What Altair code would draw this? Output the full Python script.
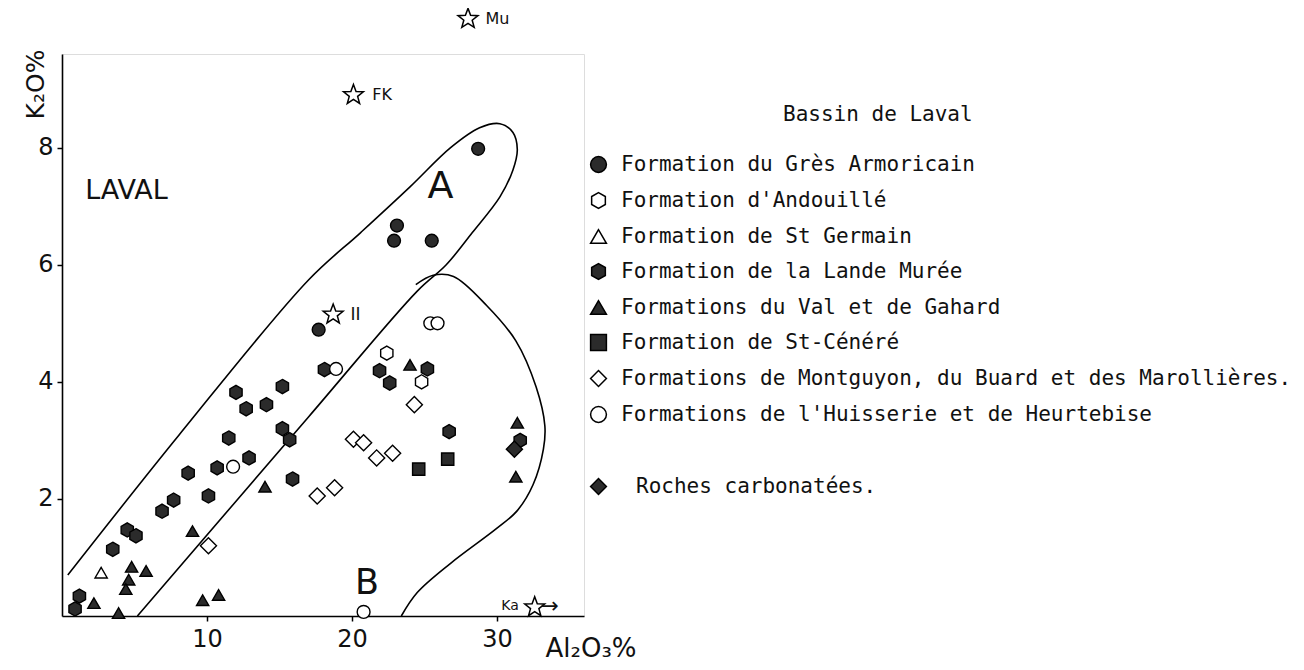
import altair as alt
import pandas as pd

# ---------------- data ----------------
gres_x = [17.7, 28.7, 23.1, 22.9, 25.5]
gres_y = [4.89, 7.98, 6.67, 6.41, 6.41]

andouille_x = [22.4, 24.8]
andouille_y = [4.49, 4.00]

stgermain_x = [2.7]
stgermain_y = [0.74]

lande_x = [12.0, 12.7, 11.5, 12.9, 10.7, 8.7, 7.7, 6.9, 10.1, 4.5, 5.1, 3.5, 1.2, 0.9,
           15.2, 14.1, 15.2, 15.7, 15.9, 18.1, 21.9, 22.6, 25.2, 26.7, 31.6]
lande_y = [3.82, 3.54, 3.04, 2.70, 2.53, 2.44, 1.98, 1.79, 2.05, 1.47, 1.37, 1.14, 0.34, 0.12,
           3.92, 3.61, 3.20, 3.01, 2.34, 4.21, 4.19, 3.98, 4.22, 3.15, 3.00]

val_x = [9.0, 4.8, 5.8, 4.6, 4.4, 2.2, 3.9, 9.7, 10.8, 14.0, 24.0, 31.4, 31.3]
val_y = [1.45, 0.84, 0.77, 0.62, 0.46, 0.22, 0.05, 0.27, 0.36, 2.21, 4.29, 3.30, 2.38]

cenere_x = [26.6, 24.6]
cenere_y = [2.68, 2.51]

montguyon_x = [10.1, 20.1, 20.8, 21.7, 22.8, 17.6, 18.8, 24.3]
montguyon_y = [1.20, 3.02, 2.96, 2.70, 2.78, 2.05, 2.19, 3.61]

huisserie_x = [11.8, 18.9, 25.4, 25.9, 20.8]
huisserie_y = [2.55, 4.22, 5.00, 5.00, 0.07]

roches_x = [31.2]
roches_y = [2.85]

# envelopes A and B (outline vertices)
envA_x = [0.4, 8.1, 17.0, 20.6, 24.0, 26.8, 28.8, 30.2, 31.1, 31.4, 31.1, 30.2, 28.3, 26.5, 24.5, 17.0, 5.2]
envA_y = [0.70, 3.10, 5.74, 6.55, 7.33, 8.00, 8.34, 8.41, 8.26, 7.97, 7.62, 7.16, 6.55, 6.00, 5.55, 3.40, 0.0]
envB_x = [24.4, 25.6, 27.0, 29.3, 31.3, 32.7, 33.3, 33.2, 32.5, 31.4, 30.0, 26.8, 24.5, 23.4]
envB_y = [5.66, 5.82, 5.80, 5.30, 4.70, 3.91, 3.25, 2.85, 2.25, 1.80, 1.50, 0.90, 0.40, 0.0]

# reference minerals (stars)
star_x = [28.0, 20.1, 18.7, 32.6]
star_y = [10.2, 8.9, 5.15, 0.15]

# annotations (left-aligned text)
ann_text = ["LAVAL", "A", "B", "FK", "Mu", "II", "Ka", "\u2192"]
ann_x = [1.6, 25.2, 20.2, 21.4, 29.2, 19.9, 30.3, 33.0]
ann_y = [7.26, 7.32, 0.56, 8.9, 10.2, 5.15, 0.17, 0.17]
ann_size = [27, 38, 35, 16, 16, 17, 14, 22]

# ---------------- legend categories ----------------
PAD = "\u2800"
formations = [
    "Formation du Grès Armoricain",
    "Formation d'Andouillé",
    "Formation de St Germain",
    "Formation de la Lande Murée",
    "Formations du Val et de Gahard",
    "Formation de St-Cénéré",
    "Formations de Montguyon, du Buard et des Marollières.",
    "Formations de l'Huisserie et de Heurtebise",
    PAD,
    PAD + "Roches carbonatées.",
]

HEX = "M0,-1L0.866,-0.5L0.866,0.5L0,1L-0.866,0.5L-0.866,-0.5Z"
STAR = ("M0,-1L0.247,-0.34L0.951,-0.309L0.399,0.13L0.588,0.809L0,0.42"
        "L-0.588,0.809L-0.399,0.13L-0.951,-0.309L-0.247,-0.34Z")
DARK = "#2b2b2b"
shapes = ["circle", HEX, "triangle-up", HEX, "triangle-up", "square", "diamond", "circle", "circle", "diamond"]
fills = [DARK, "white", "white", DARK, DARK, DARK, "white", "white", "transparent", DARK]
strokes = ["black"] * 8 + ["transparent", "black"]
msize = [165, 200, 150, 200, 150, 150, 260, 165, 0, 260]

groups = [
    (gres_x, gres_y, 0), (andouille_x, andouille_y, 1), (stgermain_x, stgermain_y, 2),
    (lande_x, lande_y, 3), (val_x, val_y, 4), (cenere_x, cenere_y, 5),
    (montguyon_x, montguyon_y, 6), (huisserie_x, huisserie_y, 7), (roches_x, roches_y, 9),
]
rows = []
for xs, ys, k in groups:
    for a, b in zip(xs, ys):
        rows.append({"x": a, "y": b, "formation": formations[k], "sz": msize[k]})
pts = pd.DataFrame(rows)

env_rows = []
for name, xs, ys in [("A", envA_x, envA_y), ("B", envB_x, envB_y)]:
    for i, (a, b) in enumerate(zip(xs, ys)):
        env_rows.append({"x": a, "y": b, "o": i, "env": name})
env = pd.DataFrame(env_rows)

stars = pd.DataFrame({"x": star_x, "y": star_y})
ann = pd.DataFrame({"x": ann_x, "y": ann_y, "t": ann_text, "s": ann_size})

# ---------------- scales / axes ----------------
FONT = "DejaVu Sans"
MONO = "DejaVu Sans Mono"
xscale = alt.Scale(domain=[0, 36], nice=False, zero=False)
yscale = alt.Scale(domain=[0, 9.6], nice=False, zero=False)
xaxis = alt.Axis(values=[10, 20, 30], grid=False, tickSize=5, tickWidth=1.5, tickColor="black",
                 domainColor="black", domainWidth=1.6, labelFont=FONT, labelFontSize=24,
                 labelColor="#111", labelPadding=6, labelFlush=False,
                 title="Al\u2082O\u2083%", titleFont=FONT, titleFontSize=26, titleFontWeight="normal",
                 titleColor="#111", titleX=483, titleY=40, titleAlign="left",
                 titleBaseline="alphabetic", titleAnchor="start")
yaxis = alt.Axis(values=[2, 4, 6, 8], grid=False, tickSize=5, tickWidth=1.5, tickColor="black",
                 domainColor="black", domainWidth=1.6, labelFont=FONT, labelFontSize=24,
                 labelColor="#111", labelPadding=4, labelFlush=False,
                 title="K\u2082O%", titleFont=FONT, titleFontSize=25, titleFontWeight="normal",
                 titleColor="#111", titleAngle=270, titleX=-27, titleY=30, titleAlign="center",
                 titleBaseline="middle", titleAnchor="start")

X = alt.X("x:Q", scale=xscale, axis=xaxis)
Y = alt.Y("y:Q", scale=yscale, axis=yaxis)

legend = alt.Legend(
    orient="none", legendX=526, legendY=50,
    title=PAD * 13 + "Bassin de Laval", titleFont=MONO, titleFontSize=21,
    titleFontWeight="normal", titleColor="#111", titlePadding=29, titleLimit=1000,
    labelFont=MONO, labelFontSize=21, labelColor="#111", labelLimit=1000,
    labelOffset=12, rowPadding=13, symbolSize=250, symbolStrokeWidth=1.5,
)
sdom = alt.Scale(domain=formations, range=shapes)
fdom = alt.Scale(domain=formations, range=fills)
kdom = alt.Scale(domain=formations, range=strokes)

points = alt.Chart(pts).mark_point(filled=True, strokeWidth=1.4, opacity=1).encode(
    x=X, y=Y,
    shape=alt.Shape("formation:N", scale=sdom, legend=legend),
    fill=alt.Fill("formation:N", scale=fdom, legend=legend),
    stroke=alt.Stroke("formation:N", scale=kdom, legend=legend),
    size=alt.Size("sz:Q", scale=None),
)

lines = alt.Chart(env).mark_line(interpolate="catmull-rom", color="black", strokeWidth=1.6).encode(
    x=X, y=Y, order="o:Q", detail="env:N"
)

starlayer = alt.Chart(stars).mark_point(shape=STAR, size=440, fill="white", filled=True,
                                        stroke="black", strokeWidth=1.5, opacity=1,
                                        clip=False).encode(x=X, y=Y)

text = alt.Chart(ann).mark_text(align="left", baseline="middle", font=FONT, color="#111",
                                clip=False).encode(
    x=X, y=Y, text="t:N", size=alt.Size("s:Q", scale=None)
)

chart = alt.layer(lines, points, starlayer, text).properties(
    width=522, height=562,
    autosize=alt.AutoSizeParams(type="none"),
    padding={"left": 54, "top": 46, "right": 712, "bottom": 46},
).configure_view(stroke=None).configure(background="white")

chart.save("out.html", embed_options={"renderer": "svg", "actions": False})
